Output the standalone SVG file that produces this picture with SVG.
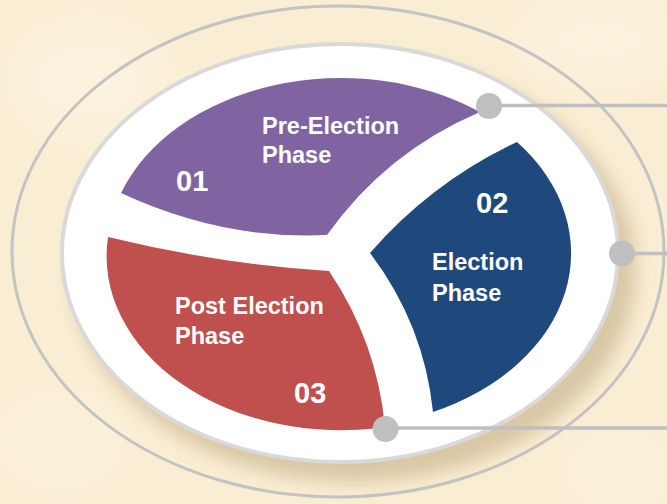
<svg xmlns="http://www.w3.org/2000/svg" width="667" height="504" viewBox="0 0 667 504">
  <defs>
    <style>
      .lbl { font-family: "Liberation Sans", Arial, sans-serif; font-weight: bold; fill: #ffffff; font-size: 23.5px; }
      .num { font-family: "Liberation Sans", Arial, sans-serif; font-weight: bold; fill: #ffffff; font-size: 29px; }
      .conn { stroke: #bfbfbf; stroke-width: 3.5; fill: none; }
      .dot { fill: #bfbfbf; }
    </style>
    <filter id="blur" x="-20%" y="-20%" width="140%" height="140%">
      <feGaussianBlur stdDeviation="9"/>
    </filter>
    <filter id="bgblur" x="-20%" y="-20%" width="140%" height="140%">
      <feGaussianBlur stdDeviation="25"/>
    </filter>
  </defs>

  <!-- background -->
  <rect x="0" y="0" width="667" height="504" fill="#f9edd3"/>
  <g filter="url(#bgblur)" opacity="0.7">
    <ellipse cx="90" cy="80" rx="80" ry="60" fill="#fdf4e2"/>
    <ellipse cx="600" cy="40" rx="90" ry="40" fill="#fdf4e2"/>
    <ellipse cx="60" cy="440" rx="70" ry="50" fill="#fcf2de"/>
    <ellipse cx="620" cy="470" rx="60" ry="40" fill="#fcf2de"/>
  </g>

  <!-- rings -->
  <g id="rings">
    <ellipse cx="338" cy="251.5" rx="326" ry="245.5" fill="none" stroke="#c3c3c3" stroke-width="3"/>
    <ellipse cx="354" cy="270" rx="282" ry="212" fill="#bfa97f" opacity="0.55" filter="url(#blur)"/>
    <ellipse cx="340" cy="253" rx="278" ry="209" fill="#ffffff" stroke="#d9d9d9" stroke-width="4"/>
  </g>

  <!-- phase 01 -->
  <g id="phase-01">
    <path d="M121,193 A234,174 0 0,1 480,112 Q386,152 327,235 Q222,240 121,193 Z" fill="#8064a2"/>
    <text class="lbl" x="262" y="134">Pre-Election</text>
    <text class="lbl" x="262" y="163">Phase</text>
    <text class="num" x="176" y="191">01</text>
  </g>

  <!-- phase 02 -->
  <g id="phase-02">
    <path d="M370,253 Q432,182 517,142 A234,174 0 0,1 433,412 Q424,324 370,253 Z" fill="#1f497d"/>
    <text class="num" x="476" y="213">02</text>
    <text class="lbl" x="432" y="270">Election</text>
    <text class="lbl" x="432" y="301">Phase</text>
  </g>

  <!-- phase 03 -->
  <g id="phase-03">
    <path d="M108,237 Q218,264 329,271 Q377,342 385,427 A234,174 0 0,1 108,237 Z" fill="#c0504d"/>
    <text class="lbl" x="175" y="314">Post Election</text>
    <text class="lbl" x="175" y="344">Phase</text>
    <text class="num" x="294" y="403">03</text>
  </g>

  <!-- connectors -->
  <g id="connectors">
    <line class="conn" x1="489" y1="105.5" x2="667" y2="105.5"/>
    <circle class="dot" cx="489" cy="106" r="13"/>
    <line class="conn" x1="622" y1="253.5" x2="667" y2="253.5"/>
    <circle class="dot" cx="622" cy="253.5" r="13"/>
    <line class="conn" x1="385" y1="428" x2="667" y2="428"/>
    <circle class="dot" cx="385.5" cy="429" r="13"/>
  </g>
</svg>
